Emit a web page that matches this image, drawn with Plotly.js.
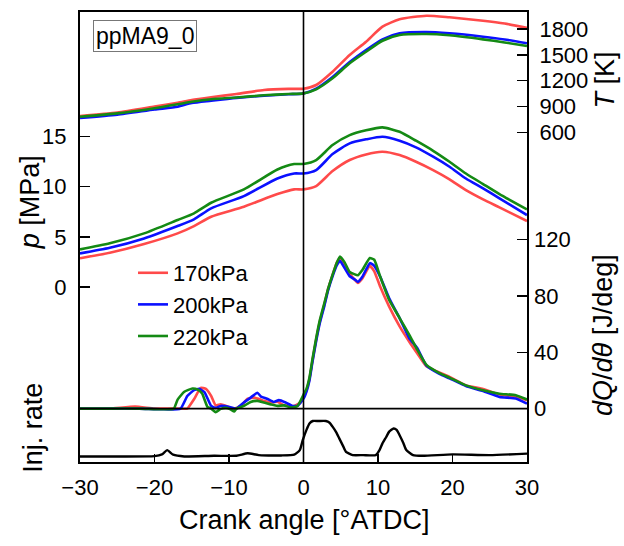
<!DOCTYPE html>
<html>
<head>
<meta charset="utf-8">
<script src="https://cdn.plot.ly/plotly-3.0.1.min.js"></script>
<style>html,body{margin:0;padding:0;background:#fff;}#chart{width:624px;height:546px;}</style>
</head>
<body>
<div id="chart"></div>
<script>
// ---- Data ----
const seriesNames = ["170kPa", "200kPa", "220kPa"];

// Temperature T [K]
const angleT = [-30, -25, -20, -16.9, -15, -12.4, -9, -5.3, -2, 0, 1.7, 3.9, 6.2, 8.4, 10.6, 12.9, 16.5, 19.6, 24.1, 27, 30];
const T170 = [790, 830, 900, 944, 975, 1007, 1045, 1092, 1105, 1107, 1150, 1305, 1499, 1653, 1828, 1914, 1956, 1937, 1898, 1865, 1815];
const T200 = [766, 805, 865, 898, 940, 967, 1000, 1026, 1042, 1051, 1107, 1243, 1417, 1557, 1681, 1751, 1766, 1751, 1712, 1680, 1635];
const T220 = [781, 820, 880, 926, 955, 984, 1005, 1030, 1045, 1053, 1100, 1228, 1402, 1537, 1665, 1731, 1743, 1728, 1681, 1645, 1603];

// Pressure p [MPa]
const angleP = [-30, -26, -21.4, -16.9, -14.7, -12.4, -8, -3.5, -1.25, 0, 1.7, 3.9, 6.2, 8.4, 10.6, 12.9, 15.1, 17.4, 19.6, 21.8, 24.1, 26.3, 30];
const p170 = [2.86, 3.41, 4.28, 5.34, 6.07, 7.0, 7.99, 9.25, 9.72, 9.72, 10.05, 11.54, 12.64, 13.2, 13.46, 13.13, 12.47, 11.64, 10.72, 9.65, 8.73, 7.93, 6.57];
const p200 = [3.35, 3.91, 4.84, 6.07, 6.74, 7.83, 9.05, 10.8, 11.3, 11.3, 11.64, 13.23, 14.3, 14.7, 14.96, 14.56, 13.9, 12.97, 11.97, 10.8, 9.82, 8.83, 7.16];
const p220 = [3.75, 4.35, 5.34, 6.67, 7.33, 8.39, 9.72, 11.7, 12.24, 12.25, 12.64, 14.13, 15.12, 15.6, 15.89, 15.45, 14.56, 13.56, 12.47, 11.3, 10.25, 9.25, 7.73];

// Heat release rate dQ/dθ [J/deg]
const angleQ170 = [-30, -26, -22.6, -20, -17, -15.6, -14.7, -13.8, -13.1, -12.4, -11.8, -11.1, -10.2, -9.3, -8.4, -7.5, -6.6, -5.3, -4.4, -3.5, -2.6, -1.25, -0.4, 0.1,
  0.4, 0.8, 1.2, 1.7, 2.2, 2.8, 3.3, 3.9, 4.5, 4.9, 5.5, 6.2, 6.8, 7.3, 7.9, 8.9, 9.5, 10.3, 11.5, 12.9, 14.2, 15.3, 16.5, 18.3, 19.6, 21.8, 24.1, 26.3, 28.5, 30];
const q170 = [0, 0, 1.4, 0, 0, 0, 6.6, 14.7, 14, 9, 2.3, 3, 1.5, 0, 1.9, 7, 7.8, 5.5, 4.3, 4.8, 2.3, 1.9, 4.3, 9,
  13, 21, 34, 49, 62, 74, 85, 95, 104, 107, 102, 96, 92, 89.3, 92.5, 101.4, 97.5, 86.5, 72.4, 58.4, 47.5, 39, 30, 25.5, 22.5, 16.5, 14, 10, 8.5, 6];
const angleQ200 = [-30, -26, -22, -19, -16.5, -15.6, -14.7, -14.0, -13.3, -12.4, -11.8, -11.1, -9.8, -9.0, -8.0, -7.1, -6.2, -5.7, -4.9, -4.0, -3.3, -2.4, -1.5, -0.8, 0.1,
  0.4, 0.8, 1.2, 1.7, 2.2, 2.8, 3.3, 3.9, 4.5, 4.9, 5.5, 6.2, 6.8, 7.3, 7.9, 8.9, 9.5, 10.3, 11.5, 12.9, 14.2, 15.3, 16.5, 18.3, 19.6, 21.8, 24.1, 26.3, 28.5, 30];
const q200 = [0, 0, 0, -0.5, 0, 8.9, 13.1, 14, 11.7, 1.9, 0.5, 1.9, 1, 0, 4.3, 7.8, 11.3, 8.5, 7, 4.7, 6, 4.3, 1.9, 1.9, 8,
  12, 20, 33, 48, 61, 73, 84, 94, 102, 105, 100, 94, 92, 90, 93.6, 103.3, 101.4, 93.6, 78.4, 64.3, 50, 42.7, 30.5, 24.5, 21.5, 16, 12.5, 8.3, 7.2, 3.5];
const angleQ220 = [-30, -26, -22, -19, -17.4, -16.9, -16.0, -14.9, -14.2, -13.6, -12.9, -12.4, -11.8, -11.1, -10.4, -9.8, -9.3, -9.0, -8.0, -7.1, -6.2, -5.3, -4.4, -3.5, -2.6, -1.7, -0.8, 0.1,
  0.4, 0.8, 1.2, 1.7, 2.2, 2.8, 3.3, 3.9, 4.5, 4.9, 5.5, 6.2, 6.8, 7.3, 7.9, 8.9, 9.5, 10.3, 11.5, 12.9, 14.2, 15.3, 16.5, 18.3, 19.6, 21.8, 24.1, 26.3, 28.5, 30];
const q220 = [0, 0, 0, -0.5, 0, 6.4, 12, 14.3, 13.5, 10.7, 1.3, 0, -2.5, -0.2, 0.5, -0.5, -2, 0, 1.9, 4.7, 5.5, 4.3, 3, 1.9, 2.3, 0.7, 1.9, 11,
  14, 22, 35, 50, 63, 75, 85, 95, 104, 108, 104, 97, 95.5, 94.7, 98.4, 106.9, 105.7, 93.6, 77.2, 64.3, 52.4, 41.5, 31, 25, 22, 16.5, 13, 10.6, 9.5, 6.5];

// Injection rate (arbitrary units)
const angleInj = [-30, -25, -20, -19, -18.3, -17.5, -16, -12, -9, -7.5, -6, -3, -1.25, -0.5, -0.1, 0.4, 0.8, 1.25, 2, 3.0, 3.5, 3.9, 4.4, 4.8, 5.3, 5.7, 6.6, 8, 9.7, 10.2, 10.6, 11.1, 11.5, 12.1, 12.5, 12.9, 13.4, 13.8, 14.7, 16, 20, 25, 30];
const injRate = [0, 0, 0.01, 0.06, 0.18, 0.05, 0, 0.02, 0.02, 0.09, 0.04, 0.03, 0.05, 0.18, 0.46, 0.75, 0.93, 1.0, 1.0, 1.0, 0.95, 0.84, 0.68, 0.51, 0.3, 0.13, 0.04, 0.04, 0.04, 0.18, 0.37, 0.55, 0.7, 0.79, 0.75, 0.6, 0.38, 0.18, 0.04, 0.02, 0.06, 0.04, 0.08];

const xTicks = [-30, -20, -10, 0, 10, 20, 30];
const pTicks = [0, 5, 10, 15];
const TTicks = [600, 900, 1200, 1500, 1800];
const qTicks = [0, 40, 80, 120];

// ---- Styles ----
const colors = ["#ff4a4a", "#0a10ff", "#148a14"];
const FONT = "Liberation Sans, Arial, sans-serif";
const lw = 2.6;

const traces = [];
const Tdata = [T170, T200, T220];
const pdata = [p170, p200, p220];
const qx = [angleQ170, angleQ200, angleQ220];
const qdata = [q170, q200, q220];
for (let i = 0; i < 3; i++) {
  traces.push({x: angleT, y: Tdata[i], yaxis: "y2", type: "scatter", mode: "lines",
    line: {color: colors[i], width: lw, shape: "spline", smoothing: 0.6}, showlegend: false, hoverinfo: "skip"});
}
for (let i = 0; i < 3; i++) {
  traces.push({x: angleP, y: pdata[i], yaxis: "y", type: "scatter", mode: "lines", name: seriesNames[i],
    line: {color: colors[i], width: lw, shape: "spline", smoothing: 0.6}, showlegend: true});
}
for (let i = 0; i < 3; i++) {
  traces.push({x: qx[i], y: qdata[i], yaxis: "y3", type: "scatter", mode: "lines",
    line: {color: colors[i], width: lw, shape: "spline", smoothing: 0.4}, showlegend: false, hoverinfo: "skip"});
}
traces.push({x: angleInj, y: injRate, yaxis: "y4", type: "scatter", mode: "lines",
  line: {color: "#000", width: 2.4, shape: "spline", smoothing: 0.5}, showlegend: false, hoverinfo: "skip"});

const tickFont = {family: FONT, size: 22, color: "#000"};
const titleFont = {family: FONT, size: 27, color: "#000"};

function ann(text, x, y, angle) {
  return {text: text, xref: "paper", yref: "paper", x: x, y: y, xanchor: "center", yanchor: "middle",
    textangle: angle, showarrow: false, font: titleFont};
}

const layout = {
  width: 624, height: 546,
  margin: {l: 80, r: 97, t: 12, b: 84},
  paper_bgcolor: "#fff", plot_bgcolor: "#fff",
  font: {family: FONT, color: "#000"},
  xaxis: {range: [-30, 30], tickvals: xTicks, ticks: "inside", ticklen: 8, tickwidth: 1.5, tickcolor: "#000",
    showline: true, linecolor: "#000", linewidth: 2, mirror: true, showgrid: false, zeroline: false,
    tickfont: tickFont, ticklabelstandoff: 5},
  yaxis: {range: [-17.41, 27.37], tickvals: pTicks, ticks: "inside", ticklen: 10, tickwidth: 1.5, tickcolor: "#000",
    showline: true, linecolor: "#000", linewidth: 2, mirror: true, showgrid: false, zeroline: false,
    tickfont: tickFont, ticklabelstandoff: 7},
  yaxis2: {range: [-3233.7, 1998.9], tickvals: TTicks, overlaying: "y", side: "right", ticks: "inside", ticklen: 10,
    tickwidth: 1.5, tickcolor: "#000", showline: true, linecolor: "#000", linewidth: 2, showgrid: false, zeroline: false,
    tickfont: tickFont, ticklabelstandoff: 6},
  yaxis3: {range: [-37.93, 281.67], tickvals: qTicks, overlaying: "y", side: "right", ticks: "inside", ticklen: 10,
    tickwidth: 1.5, tickcolor: "#000", showline: false, showgrid: false, zeroline: false,
    tickfont: tickFont, ticklabelstandoff: 6},
  yaxis4: {range: [-0.155, 12.52], overlaying: "y", visible: false, showgrid: false, zeroline: false},
  showlegend: true,
  legend: {x: 0.1186, y: 0.4667, xanchor: "left", yanchor: "top", bgcolor: "rgba(0,0,0,0)",
    font: {family: FONT, size: 22, color: "#000"}, tracegroupgap: 0},
  shapes: [
    {type: "line", xref: "x", yref: "paper", x0: 0, x1: 0, y0: 0, y1: 1, line: {color: "#000", width: 1.6}},
    {type: "line", xref: "paper", yref: "y3", x0: 0, x1: 1, y0: 0, y1: 0, line: {color: "#000", width: 1.6}}
  ],
  annotations: [
    {text: "ppMA9_0", xref: "paper", yref: "paper", x: 0.1443, y: 0.946, xanchor: "center", yanchor: "middle", showarrow: false,
      font: {family: FONT, size: 23, color: "#000"}, bordercolor: "#777", borderwidth: 1, borderpad: 2, bgcolor: "#fff"},
    ann("<i>p</i> [MPa]", -0.112, 0.577, -90),
    ann("Inj. rate", -0.105, 0.076, -90),
    ann("<i>T</i> [K]", 1.1745, 0.848, -90),
    ann("<i>dQ</i>/<i>dθ</i> [J/deg]", 1.170, 0.282, -90),
    ann("Crank angle [°ATDC]", 0.501, -0.129, 0)
  ]
};

Plotly.newPlot("chart", traces, layout, {displayModeBar: false, staticPlot: true});
</script>
</body>
</html>
